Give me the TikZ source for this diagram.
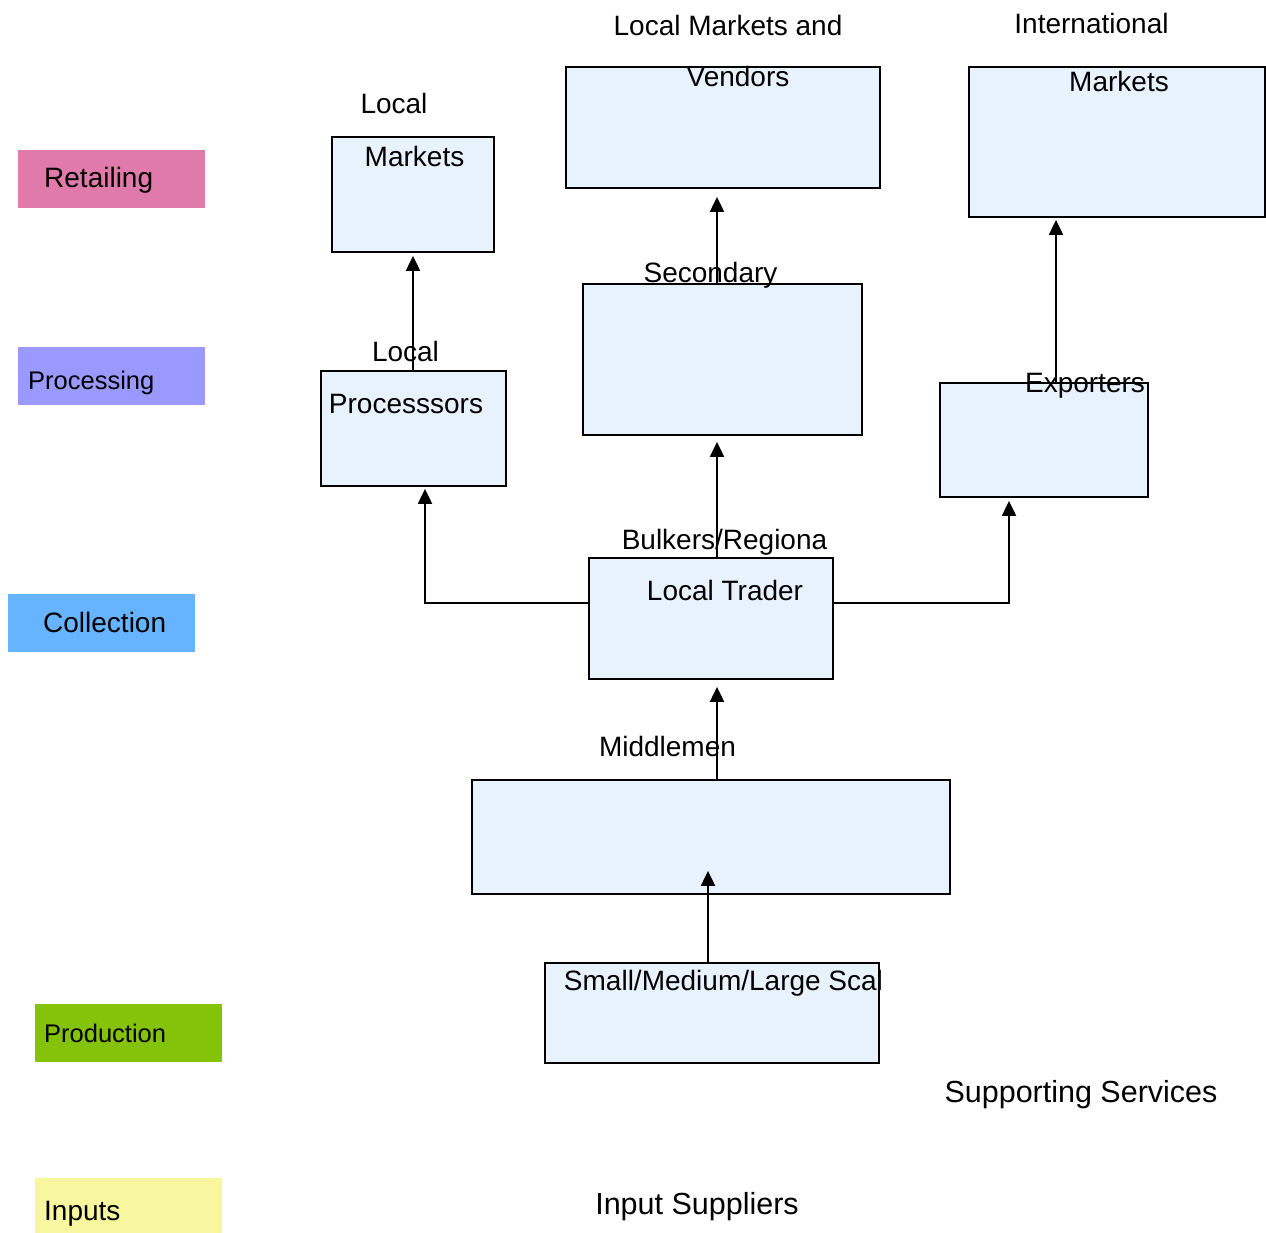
\documentclass[tikz,border=0pt]{standalone}
\usepackage{fontspec}
\setmainfont{Liberation Sans}
\usetikzlibrary{arrows.meta,calc}
\definecolor{cretail}{HTML}{E07AAA}
\definecolor{cproc}{HTML}{9999FF}
\definecolor{ccoll}{HTML}{66B3FF}
\definecolor{cprod}{HTML}{85C20A}
\definecolor{cinput}{HTML}{F8F69F}
\definecolor{cbox}{HTML}{E8F2FD}
\tikzset{
  x=1pt, y=-1pt,
  stage/.style={rectangle, draw=none, inner sep=0pt, anchor=north west},
  flowbox/.style={rectangle, draw=black, line width=1.8pt, fill=cbox, inner sep=0pt},
  txt/.style={inner sep=0pt, anchor=base, font=\fontsize{28}{34}\selectfont},
  txtlg/.style={inner sep=0pt, anchor=base, font=\fontsize{30.5}{36}\selectfont},
  stxt/.style={inner sep=0pt, anchor=base west, font=\fontsize{28}{34}\selectfont},
  stxtsm/.style={inner sep=0pt, anchor=base west, font=\fontsize{25.5}{31}\selectfont},
  arr/.style={line width=2pt, -{Triangle[length=15pt,width=14pt]}}
}
\begin{document}
\begin{tikzpicture}
\useasboundingbox (0,0) rectangle (1266,1233);
% stage labels
\node[stage, fill=cretail, minimum width=187pt, minimum height=58pt] (sRet) at (18,150) {};
\node[stage, fill=cproc, minimum width=187pt, minimum height=58pt] (sProc) at (18,347) {};
\node[stage, fill=ccoll, minimum width=187pt, minimum height=58pt] (sColl) at (8,594) {};
\node[stage, fill=cprod, minimum width=187pt, minimum height=58pt] (sProd) at (35,1004) {};
\node[stage, fill=cinput, minimum width=187pt, minimum height=55pt] (sInp) at (35,1178) {};
\node[stxt] (tRet) at (44,188) {Retailing};
\node[stxtsm] (tProc) at (28,389) {Processing};
\node[stxt] (tColl) at (43,632) {Collection};
\node[stxtsm] (tProd) at (44,1042) {Production};
\node[stxt] (tInp) at (44,1220) {Inputs};
% boxes
\node[flowbox, minimum width=162pt, minimum height=115pt] (lm) at (413,194.5) {};
\node[flowbox, minimum width=314pt, minimum height=121pt] (ven) at (723,127.5) {};
\node[flowbox, minimum width=296pt, minimum height=150pt] (intl) at (1117,142) {};
\node[flowbox, minimum width=185pt, minimum height=115pt] (lp) at (413.5,428.5) {};
\node[flowbox, minimum width=279pt, minimum height=151pt] (sec) at (722.5,359.5) {};
\node[flowbox, minimum width=208pt, minimum height=114pt] (exp) at (1044,440) {};
\node[flowbox, minimum width=244pt, minimum height=121pt] (lt) at (711,618.5) {};
\node[flowbox, minimum width=478pt, minimum height=114pt] (mid) at (711,837) {};
\node[flowbox, minimum width=334pt, minimum height=100pt] (sml) at (712,1013) {};
% arrows
\draw[arr, shorten >=3pt] ([xshift=-0.5pt]lp.north) -- (lm.south);
\draw[arr, shorten >=8pt] ([xshift=-5.5pt]sec.north) -- ([xshift=-6pt]ven.south);
\draw[arr, shorten >=2pt] ([xshift=12pt]exp.north) -- ([xshift=-61pt]intl.south);
\draw[arr, shorten >=2pt] ([yshift=15.5pt]lt.west) -| ([xshift=11.5pt]lp.south);
\draw[arr, shorten >=6pt] ([xshift=6pt]lt.north) -- ([xshift=-5.5pt]sec.south);
\draw[arr, shorten >=3pt] ([yshift=15.5pt]lt.east) -| ([xshift=-35pt]exp.south);
\draw[arr, shorten >=7pt] ([xshift=6pt]mid.north) -- ([xshift=6pt]lt.south);
\draw[arr, shorten >=-24pt] ([xshift=-4pt]sml.north) -- ([xshift=-3pt]mid.south);
% texts
\node[txt] (t1) at (394,114) {Local};
\node[txt] (t2) at (414.5,167) {Markets};
\node[txt] (t3) at (728,36) {Local Markets and};
\node[txt] (t4) at (738,87) {Vendors};
\node[txt] (t5) at (1091.5,34) {International};
\node[txt] (t6) at (1119,92) {Markets};
\node[txt] (t7) at (710.5,283) {Secondary};
\node[txt] (t8) at (405.5,361) {Local};
\node[txt] (t9) at (406,413) {Processsors};
\node[txt] (t10) at (1085,392) {Exporters};
\node[txt] (t11) at (724.5,549) {Bulkers/Regiona};
\node[txt] (t12) at (725,600) {Local Trader};
\node[txt] (t13) at (667.5,756) {Middlemen};
\node[txt] (t14) at (723.5,990) {Small/Medium/Large Scal};
\node[txtlg] (t15) at (1081,1102) {Supporting Services};
\node[txtlg] (t16) at (697,1214) {Input Suppliers};
\end{tikzpicture}
\end{document}
